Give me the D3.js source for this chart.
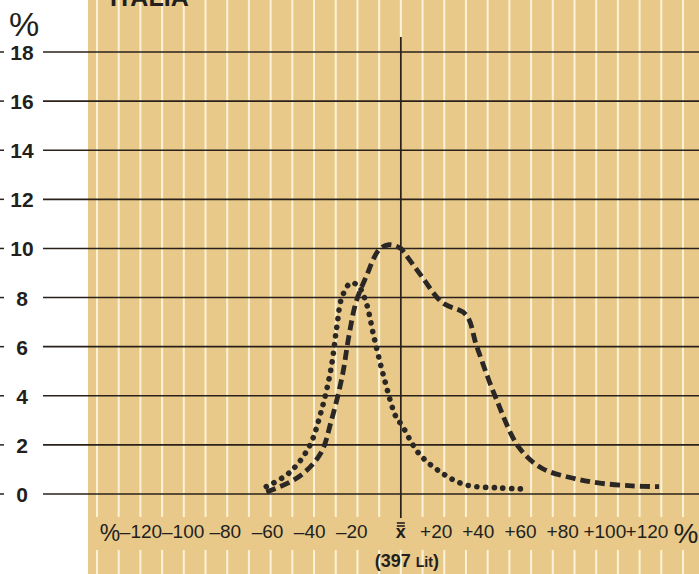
<!DOCTYPE html>
<html lang="it">
<head>
<meta charset="UTF-8">
<title>Italia</title>
<script src="https://d3js.org/d3.v7.min.js"></script>
<style>
  body { margin: 0; background: #fff; }
  svg text { font-family: "Liberation Sans", Arial, sans-serif; fill: #231f1c; }
</style>
</head>
<body>
<svg id="chart" width="699" height="574"></svg>
<script>
// deviation from mean price (%) and share (%)
const dashX = [-62, -47, -37, -32, -27, -24, -20.7, -16, -10, -5.5, 0, 1.4, 9.7, 19, 30, 35, 43.6, 54.4, 65, 79, 91, 106.5, 119];
const dashY = [0.08, 0.7, 1.65, 3.0, 4.8, 6.4, 7.8, 8.85, 9.95, 10.15, 10.0, 9.85, 8.85, 7.8, 7.3, 6.0, 3.95, 1.9, 1.05, 0.65, 0.45, 0.33, 0.3];
const dotX = [-62, -51.6, -42.4, -36.9, -32.3, -29.5, -27.2, -23, -19.4, -16, -12.4, -7.8, -2.3, 0.5, 8.3, 19, 30, 45, 58];
const dotY = [0.3, 0.85, 1.9, 3.3, 5.05, 6.8, 8.0, 8.6, 8.45, 7.8, 6.4, 4.75, 3.15, 2.8, 1.65, 0.85, 0.37, 0.25, 0.2];

const yTicks = [0, 2, 4, 6, 8, 10, 12, 14, 16, 18];
const xTicks = [-120, -100, -80, -60, -40, -20, 20, 40, 60, 80, 100, 120];
const gridX = d3.range(-140, 131, 10);
const title = "ITALIA";
const meanLabel = "(397 ";
const unitLabel = "Lit";

const W = 699, H = 574;
const svg = d3.select("#chart");

const x = d3.scaleLinear().domain([-140, 130]).range([97, 683]);
const y = d3.scaleLinear().domain([0, 18]).range([494, 52]);
// printed labels are set a little tighter than the grid
const xl = d3.scaleLinear().domain([-120, 120]).range([141, 647]);

// tan panel
svg.append("rect").attr("x", 88).attr("y", 0).attr("width", W - 88).attr("height", H)
  .attr("fill", "#e8c98a");

// white vertical rules, broken behind the x labels
gridX.forEach(v => {
  svg.append("line").attr("x1", x(v)).attr("x2", x(v)).attr("y1", 0).attr("y2", 517)
    .attr("stroke", "#fcf3d6").attr("stroke-width", 2);
  svg.append("line").attr("x1", x(v)).attr("x2", x(v)).attr("y1", 550).attr("y2", H)
    .attr("stroke", "#fcf3d6").attr("stroke-width", 2);
});

// title, cut off at top
svg.append("text").attr("x", 110).attr("y", 6).attr("font-size", 25).attr("font-weight", "bold")
  .text(title);

// horizontal rules + y labels
const yg = svg.append("g");
yg.selectAll("line.h").data(yTicks).join("line")
  .attr("x1", 43).attr("x2", W).attr("y1", d => y(d)).attr("y2", d => y(d))
  .attr("stroke", "#2a211a").attr("stroke-width", 1.6);
yg.selectAll("line.t").data(yTicks).join("line")
  .attr("x1", 0).attr("x2", 4).attr("y1", d => y(d)).attr("y2", d => y(d))
  .attr("stroke", "#2a211a").attr("stroke-width", 1.5);
yg.selectAll("text").data(yTicks).join("text")
  .attr("x", 22).attr("y", d => y(d) + 8).attr("text-anchor", "middle")
  .attr("font-size", 21).attr("font-weight", "bold").text(d => d);
svg.append("text").attr("x", 24).attr("y", 36).attr("text-anchor", "middle")
  .attr("font-size", 34).text("%");

// mean line
svg.append("line").attr("x1", x(0)).attr("x2", x(0)).attr("y1", 37).attr("y2", 518)
  .attr("stroke", "#2a211a").attr("stroke-width", 1.8);

// x labels
const xg = svg.append("g");
xg.selectAll("text").data(xTicks).join("text")
  .attr("x", d => xl(d)).attr("y", 538).attr("text-anchor", "middle")
  .attr("font-size", 19)
  .text(d => (d < 0 ? "\u2013" : "+") + Math.abs(d));
svg.append("text").attr("x", 110).attr("y", 541).attr("text-anchor", "middle")
  .attr("font-size", 23).text("%");
svg.append("text").attr("x", 686).attr("y", 543).attr("text-anchor", "middle")
  .attr("font-size", 28).text("%");

// x-bar
svg.append("text").attr("x", x(0)).attr("y", 538).attr("text-anchor", "middle")
  .attr("font-size", 18).attr("font-weight", "bold").text("x");
[523, 526].forEach(yy => svg.append("line")
  .attr("x1", x(0) - 4).attr("x2", x(0) + 4).attr("y1", yy).attr("y2", yy)
  .attr("stroke", "#231f1c").attr("stroke-width", 1.6));

const ml = svg.append("text").attr("x", x(0) + 6).attr("y", 567).attr("text-anchor", "middle")
  .attr("font-size", 18).attr("font-weight", "bold");
ml.append("tspan").text(meanLabel);
ml.append("tspan").attr("font-size", 14).text(unitLabel);
ml.append("tspan").text(")");

// curves
const line = d3.line().x(d => x(d[0])).y(d => y(d[1])).curve(d3.curveCatmullRom.alpha(0.5));

svg.append("path").datum(d3.zip(dotX, dotY)).attr("d", line)
  .attr("fill", "none").attr("stroke", "#2b2724").attr("stroke-width", 5.6)
  .attr("stroke-linecap", "round").attr("stroke-dasharray", "0.1 8.6");

svg.append("path").datum(d3.zip(dashX, dashY)).attr("d", line)
  .attr("fill", "none").attr("stroke", "#2b2724").attr("stroke-width", 4.8)
  .attr("stroke-dasharray", "10 5");
</script>
</body>
</html>
